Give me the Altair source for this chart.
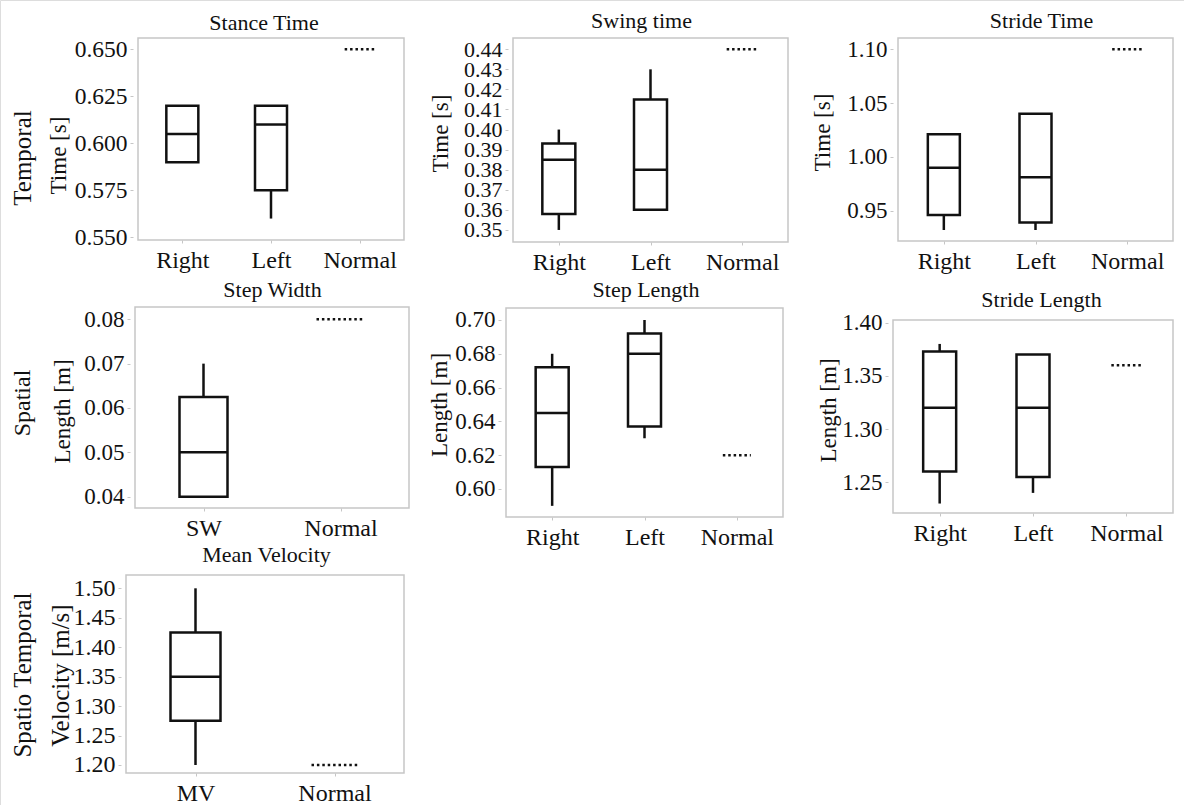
import json
import pandas as pd
import altair as alt

FONT = "Liberation Serif"
BLACK = "#111111"
FRAME = "#c6c6c6"
W, H = 1184, 805

# ---------------- data ----------------
group_labels = ["Temporal", "Spatial", "Spatio Temporal"]
normal_label = "Normal"
titles = ["Stance Time", "Swing time", "Stride Time", "Step Width",
          "Step Length", "Stride Length", "Mean Velocity"]
y_titles = ["Time [s]", "Time [s]", "Time [s]", "Length [m]", "Length [m]",
            "Length [m]", "Velocity [m/s]"]

stance_groups = ["Right", "Left"]
stance_q1 = [0.590, 0.575]
stance_median = [0.605, 0.610]
stance_q3 = [0.620, 0.620]
stance_low = [0.590, 0.560]
stance_high = [0.620, 0.620]
stance_normal = 0.650
stance_ticks = [0.550, 0.575, 0.600, 0.625, 0.650]

swing_groups = ["Right", "Left"]
swing_q1 = [0.358, 0.360]
swing_median = [0.385, 0.380]
swing_q3 = [0.393, 0.415]
swing_low = [0.350, 0.360]
swing_high = [0.400, 0.430]
swing_normal = 0.440
swing_ticks = [0.35, 0.36, 0.37, 0.38, 0.39, 0.40, 0.41, 0.42, 0.43, 0.44]

stride_t_groups = ["Right", "Left"]
stride_t_q1 = [0.946, 0.939]
stride_t_median = [0.990, 0.981]
stride_t_q3 = [1.021, 1.040]
stride_t_low = [0.932, 0.932]
stride_t_high = [1.021, 1.040]
stride_t_normal = 1.100
stride_t_ticks = [0.95, 1.00, 1.05, 1.10]

width_groups = ["SW"]
width_q1 = [0.040]
width_median = [0.050]
width_q3 = [0.0625]
width_low = [0.040]
width_high = [0.070]
width_normal = 0.080
width_ticks = [0.04, 0.05, 0.06, 0.07, 0.08]

step_groups = ["Right", "Left"]
step_q1 = [0.613, 0.637]
step_median = [0.645, 0.680]
step_q3 = [0.672, 0.692]
step_low = [0.590, 0.630]
step_high = [0.680, 0.700]
step_normal = 0.620
step_ticks = [0.60, 0.62, 0.64, 0.66, 0.68, 0.70]

stride_l_groups = ["Right", "Left"]
stride_l_q1 = [1.260, 1.255]
stride_l_median = [1.320, 1.320]
stride_l_q3 = [1.373, 1.370]
stride_l_low = [1.230, 1.240]
stride_l_high = [1.380, 1.370]
stride_l_normal = 1.360
stride_l_ticks = [1.25, 1.30, 1.35, 1.40]

vel_groups = ["MV"]
vel_q1 = [1.275]
vel_median = [1.350]
vel_q3 = [1.425]
vel_low = [1.200]
vel_high = [1.500]
vel_normal = 1.200
vel_ticks = [1.20, 1.25, 1.30, 1.35, 1.40, 1.45, 1.50]


def text_layer(label, x, y, size, angle=0, baseline="alphabetic"):
    kw = dict(align="center", baseline=baseline, font=FONT, fontSize=size,
              color=BLACK)
    if angle:
        kw["angle"] = angle
    return alt.Chart(pd.DataFrame({"label": [label]})).mark_text(**kw).encode(
        x=alt.value(x), y=alt.value(y), text="label:N")


def panel(groups, q1, med, q3, lo, hi, normal, ytitle, yticks, yfmt,
          ydomain, xpix, ypix, box_w, dot_w, ytitle_pos,
          ylab_size=23, ytitle_size=23):
    """xpix = (left, right), ypix = (top, bottom) of the plot frame."""
    cats = groups + [normal_label]
    n = len(cats)
    box_df = pd.DataFrame({
        "idx": list(range(len(groups))), "group": groups,
        "q1": q1, "median": med, "q3": q3, "low": lo, "high": hi,
    })
    norm_df = pd.DataFrame({"idx": [len(groups)], "group": [normal_label],
                            "value": [normal]})
    frame_df = pd.DataFrame({"x0": [-0.5], "x1": [n - 0.5],
                             "y0": [ydomain[0]], "y1": [ydomain[1]]})
    label_expr = json.dumps(cats) + "[datum.value]"
    xscale = alt.Scale(domain=[-0.5, n - 0.5], range=[xpix[0], xpix[1]],
                       nice=False, zero=False)
    xaxis = alt.Axis(orient="bottom", offset=ypix[1] - H,
                     values=list(range(n)), labelExpr=label_expr, title=None,
                     grid=False, domain=False, tickSize=3, tickColor=FRAME,
                     labelPadding=5, labelFontSize=24, labelAngle=0,
                     labelFlush=False, labelOverlap=False, labelColor=BLACK,
                     labelFont=FONT)
    yscale = alt.Scale(domain=ydomain, range=[ypix[1], ypix[0]], nice=False,
                       zero=False)
    yaxis = alt.Axis(orient="left", offset=-xpix[0], values=yticks,
                     format=yfmt, title=ytitle, grid=False, domain=False,
                     tickSize=3, tickColor=FRAME, labelPadding=3,
                     labelFontSize=ylab_size, labelColor=BLACK, labelFont=FONT,
                     labelOverlap=False, labelFlush=False,
                     titleFont=FONT, titleFontSize=ytitle_size,
                     titleFontWeight="normal", titleColor=BLACK,
                     titleAngle=270, titleAlign="center", titleBaseline="middle",
                     titleX=ytitle_pos[0] - xpix[0], titleY=ytitle_pos[1])

    def X(field="idx:Q"):
        return alt.X(field, scale=xscale, axis=xaxis)

    def Y(field):
        return alt.Y(field, scale=yscale, axis=yaxis)

    frame = alt.Chart(frame_df).mark_rect(
        fill="white", stroke=FRAME, strokeWidth=1.5
    ).encode(x=X("x0:Q"), x2=alt.X2("x1:Q"), y=Y("y0:Q"), y2=alt.Y2("y1:Q"))
    whisk = alt.Chart(box_df).mark_rule(color=BLACK, strokeWidth=2.5).encode(
        x=X(), y=Y("low:Q"), y2=alt.Y2("high:Q"))
    box = alt.Chart(box_df).mark_bar(
        fill="white", stroke=BLACK, strokeWidth=2.5, size=box_w, opacity=1
    ).encode(x=X(), y=Y("q1:Q"), y2=alt.Y2("q3:Q"))
    median = alt.Chart(box_df).mark_tick(
        orient="horizontal", size=box_w, thickness=2.5, color=BLACK, opacity=1
    ).encode(x=X(), y=Y("median:Q"))
    norm = alt.Chart(norm_df).mark_rule(
        strokeDash=[2.5, 2.9], strokeWidth=2.5, color=BLACK,
        xOffset=-dot_w / 2, x2Offset=dot_w / 2
    ).encode(x=X(), x2=alt.X2("idx:Q"), y=Y("value:Q"))
    return alt.layer(frame, whisk, box, median, norm)


p1 = panel(stance_groups, stance_q1, stance_median, stance_q3, stance_low,
           stance_high, stance_normal, y_titles[0], stance_ticks, ".3f",
           [0.5486, 0.656], (133, 409), (38, 240), 32, 30, (58, 155),
           ylab_size=23.5)
p2 = panel(swing_groups, swing_q1, swing_median, swing_q3, swing_low,
           swing_high, swing_normal, y_titles[1], swing_ticks, ".2f",
           [0.344, 0.4456], (508, 793), (38, 242), 33, 31, (440, 133),
           ylab_size=22)
p3 = panel(stride_t_groups, stride_t_q1, stride_t_median, stride_t_q3,
           stride_t_low, stride_t_high, stride_t_normal, y_titles[2],
           stride_t_ticks, ".2f", [0.9218, 1.1105], (893, 1178), (38, 241),
           32, 30, (822, 132))
p4 = panel(width_groups, width_q1, width_median, width_q3, width_low,
           width_high, width_normal, y_titles[3], width_ticks, ".2f",
           [0.03745, 0.08277], (130, 414), (307, 508), 48, 48, (62.5, 411))
p5 = panel(step_groups, step_q1, step_median, step_q3, step_low, step_high,
           step_normal, y_titles[4], step_ticks, ".2f", [0.5834, 0.7071],
           (501, 788), (308, 517), 33, 28, (439, 404.5))
p6 = panel(stride_l_groups, stride_l_q1, stride_l_median, stride_l_q3,
           stride_l_low, stride_l_high, stride_l_normal, y_titles[5],
           stride_l_ticks, ".2f", [1.2211, 1.4025], (888, 1178), (320, 513),
           33, 30, (828, 410))
p7 = panel(vel_groups, vel_q1, vel_median, vel_q3, vel_low, vel_high,
           vel_normal, y_titles[6], vel_ticks, ".2f", [1.1864, 1.5226],
           (121, 409), (575, 773), 50, 46, (60, 675),
           ylab_size=24, ytitle_size=25)

texts = [
    text_layer(titles[0], 264, 30, 22),
    text_layer(titles[1], 641.5, 28, 22),
    text_layer(titles[2], 1041.5, 28, 22),
    text_layer(titles[3], 272.5, 297, 22),
    text_layer(titles[4], 646, 297, 22),
    text_layer(titles[5], 1041.5, 307, 22),
    text_layer(titles[6], 266.5, 562, 22),
    text_layer(group_labels[0], 22.5, 158, 25, 270, "middle"),
    text_layer(group_labels[1], 22.5, 403, 24, 270, "middle"),
    text_layer(group_labels[2], 22.5, 675, 25, 270, "middle"),
]

chart = alt.layer(p1, p2, p3, p4, p5, p6, p7, *texts).resolve_scale(
    x="independent", y="independent"
).resolve_axis(
    x="independent", y="independent"
).properties(
    width=W, height=H, padding=0, background="white",
    autosize=alt.AutoSizeParams(type="none"),
).configure_view(stroke="transparent", strokeWidth=0).configure(font=FONT)

chart.save("out.html", embed_options={"renderer": "svg", "actions": False})
